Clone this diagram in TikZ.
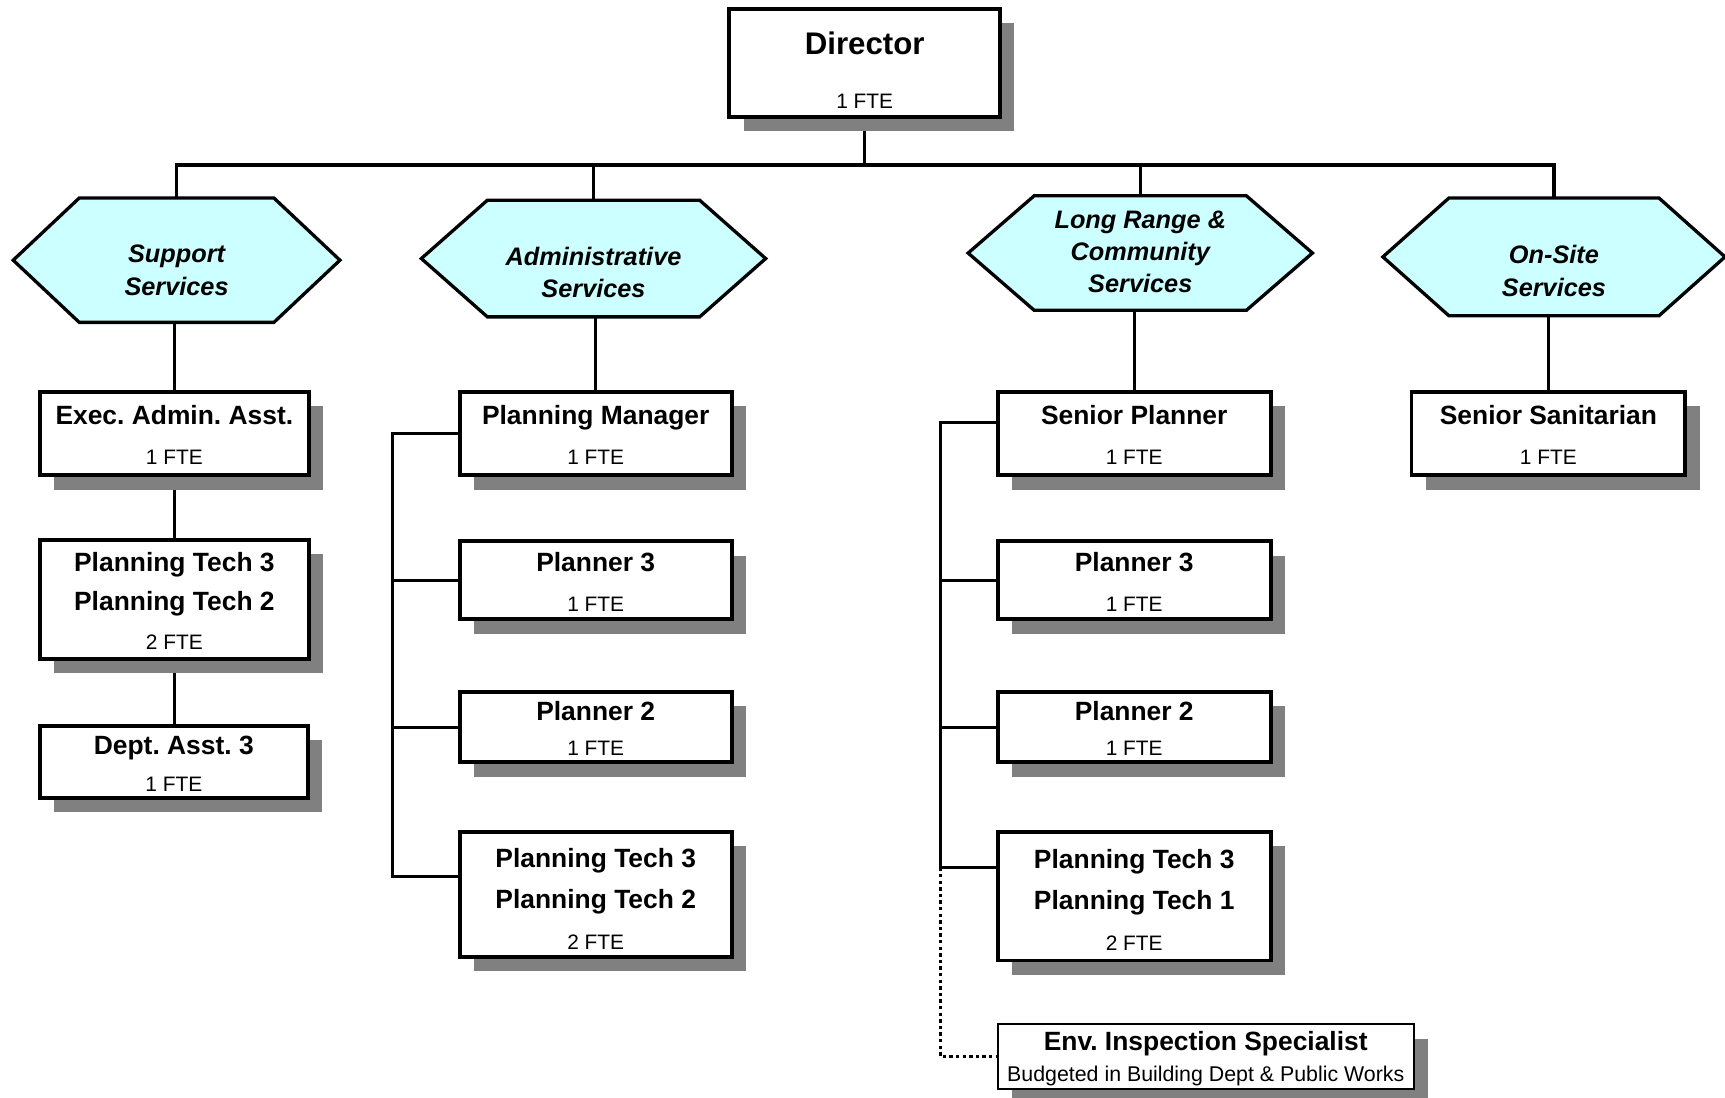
\documentclass[tikz,border=0pt]{standalone}
\usepackage{fontspec}
\setmainfont{Liberation Sans}
\usetikzlibrary{shadows,calc,backgrounds}
\definecolor{hexfill}{HTML}{CCFFFF}
\definecolor{shadowgray}{HTML}{808080}
\frenchspacing
\newcommand\ftetxt[1]{{\fontsize{9.5}{11}\selectfont\mdseries #1 FTE}}
\newcommand\drawhex[1]{%
  \draw[hexline] (#1.west) -- ($(#1.north west)+(60,0)$) -- ($(#1.north east)+(-60,0)$)
    -- (#1.east) -- ($(#1.south east)+(-60,0)$) -- ($(#1.south west)+(60,0)$) -- cycle;}
\begin{document}
\begin{tikzpicture}[x=0.5pt,y=-0.5pt,
  bsize/.style 2 args={minimum width=#1*0.5pt, minimum height=#2*0.5pt},
  lsk/.style={font=\fontsize{12}{#1}\selectfont\bfseries},
  pbox/.style={draw=black, line width=1.75pt, fill=white,
    drop shadow={shadow xshift=6.5pt, shadow yshift=-6.5pt, fill=shadowgray, opacity=1},
    inner sep=0pt, align=center},
  thinbox/.style={pbox, line width=0.75pt},
  hexbox/.style={inner sep=0pt, outer sep=0pt, draw=none},
  hexline/.style={draw=black, fill=hexfill, line width=1.5pt},
  hextext/.style={align=center, inner sep=0pt, font=\fontsize{11.5}{#1}\selectfont\bfseries\itshape},
  conn/.style={line width=1.5pt},
  dotline/.style={line width=1.5pt, dash pattern=on 1.5pt off 1.5pt}]
\useasboundingbox (0,0) rectangle (1568,998);

% Director
\node[pbox, bsize={246}{98}, lsk=24.5] (dir) at (786,57)
  {\rule{0pt}{17pt}{\fontsize{14.2}{17}\selectfont Director}\\\ftetxt{1}};

% Hexagons
\node[hexbox, bsize={297}{113}] (ss) at (160.5,236.5) {};
\drawhex{ss}
\node[hextext=15] (sst) at ($(ss)+(0,9.5)$) {Support\\Services};

\node[hexbox, bsize={313}{106}] (as) at (539.5,235) {};
\drawhex{as}
\node[hextext=14.5] (ast) at ($(as)+(0,13)$) {Administrative\\Services};

\node[hexbox, bsize={313}{104}] (lr) at (1036.5,230) {};
\drawhex{lr}
\node[hextext=14.5] (lrt) at ($(lr)+(0,-1)$) {Long Range \&\\Community\\Services};

\node[hexbox, bsize={311}{107}] (os) at (1412.5,233.5) {};
\drawhex{os}
\node[hextext=15] (ost) at ($(os)+(0,13)$) {On-Site\\Services};

% Support column
\node[pbox, bsize={245}{76}, lsk=18.5] (ea) at (158.5,394) {\rule{0pt}{10pt}Exec. Admin. Asst.\\\ftetxt{1}};
\node[pbox, bsize={245}{108}, lsk=17.75] (spt) at (158.5,545) {\rule{0pt}{10pt}Planning Tech 3\\Planning Tech 2\\\ftetxt{2}};
\node[pbox, bsize={244}{65}, lsk=16.5] (da) at (158,692.5) {\rule{0pt}{10pt}Dept. Asst. 3\\\ftetxt{1}};

% Administrative column
\node[pbox, bsize={247}{76}, lsk=18.5] (pm) at (541.5,394) {\rule{0pt}{10pt}Planning Manager\\\ftetxt{1}};
\node[pbox, bsize={247}{71}, lsk=18] (ap3) at (541.5,527.5) {\rule{0pt}{10pt}Planner 3\\\ftetxt{1}};
\node[pbox, bsize={247}{64}, lsk=16] (ap2) at (541.5,661) {\rule{0pt}{10pt}Planner 2\\\ftetxt{1}};
\node[pbox, bsize={247}{114}, lsk=18.75] (apt) at (541.5,813) {\rule{0pt}{13pt}Planning Tech 3\\Planning Tech 2\\\ftetxt{2}};

% Long range column
\node[pbox, bsize={248}{76}, lsk=18.5] (sp) at (1031,394) {\rule{0pt}{10pt}Senior Planner\\\ftetxt{1}};
\node[pbox, bsize={248}{71}, lsk=18] (lp3) at (1031,527.5) {\rule{0pt}{10pt}Planner 3\\\ftetxt{1}};
\node[pbox, bsize={248}{64}, lsk=16] (lp2) at (1031,661) {\rule{0pt}{10pt}Planner 2\\\ftetxt{1}};
\node[pbox, bsize={248}{117}, lsk=18.75] (lpt) at (1031,814.5) {\rule{0pt}{12pt}Planning Tech 3\\Planning Tech 1\\\ftetxt{2}};
\node[thinbox, bsize={378}{59}, lsk=14] (env) at (1096,960.5)
  {\rule{0pt}{10.5pt}Env. Inspection Specialist\\{\fontsize{9.7}{11}\selectfont\mdseries Budgeted in Building Dept \& Public Works}};

% On-site column
\node[pbox, bsize={249}{76}, lsk=18.5] (ssn) at (1407.5,394) {\rule{0pt}{10pt}Senior Sanitarian\\\ftetxt{1}};

% Connectors
\coordinate (busy) at (0,150);
\coordinate (abus) at (357,0);
\coordinate (lbus) at (855,0);
\coordinate (aptb) at ($(apt.west)+(0,-16)$);
\coordinate (spb) at ($(sp.west)+(0,-10)$);
\coordinate (lptb) at ($(lpt.west)+(0,-26)$);
\begin{scope}[on background layer]
\draw[conn] (dir.south) -- (dir.south |- busy);
\draw[conn] (ss.north) -- (ss.north |- busy) -- (os.north |- busy) -- (os.north);
\draw[conn] (as.north) -- (as.north |- busy);
\draw[conn] (lr.north) -- (lr.north |- busy);

\draw[conn] (ea.north) -- (ea.north |- ss.south);
\draw[conn] (ea.south) -- (spt.north);
\draw[conn] (spt.south) -- (spt.south |- da.north);

\draw[conn] (pm.north) -- (pm.north |- as.south);
\draw[conn] (pm.west) -- (pm.west -| abus) -- (aptb -| abus) -- (aptb);
\draw[conn] (ap3.west) -- (ap3.west -| abus);
\draw[conn] (ap2.west) -- (ap2.west -| abus);

\draw[conn] (sp.north) -- (sp.north |- lr.south);
\draw[conn] (spb) -- (spb -| lbus) -- (lptb -| lbus) -- (lptb);
\draw[conn] (lp3.west) -- (lp3.west -| lbus);
\draw[conn] (lp2.west) -- (lp2.west -| lbus);
\draw[dotline] (lptb -| lbus) |- (env.west);

\draw[conn] (ssn.north) -- (ssn.north |- os.south);
\end{scope}
\end{tikzpicture}
\end{document}
